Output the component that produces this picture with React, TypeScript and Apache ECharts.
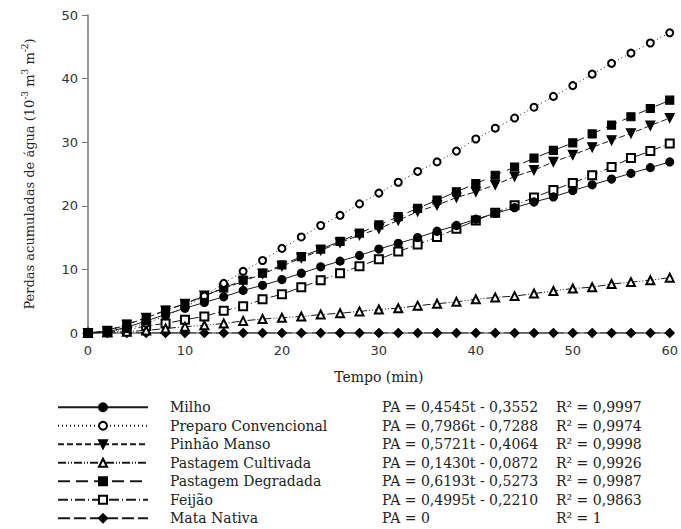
import React, { useEffect, useRef } from "react";
import * as echarts from "echarts";

const tempo = [0, 2, 4, 6, 8, 10, 12, 14, 16, 18, 20, 22, 24, 26, 28, 30, 32, 34, 36, 38, 40, 42, 44, 46, 48, 50, 52, 54, 56, 58, 60];

const milho = [0, 0.2, 0.9, 1.9, 2.9, 3.9, 4.8, 5.7, 6.7, 7.5, 8.4, 9.4, 10.4, 11.3, 12.2, 13.2, 14.1, 15.0, 16.0, 16.9, 17.9, 18.8, 19.7, 20.6, 21.4, 22.4, 23.3, 24.2, 25.1, 26.0, 26.9];
const preparo = [0, 0.2, 0.7, 1.5, 2.7, 4.0, 5.8, 7.8, 9.7, 11.4, 13.3, 15.1, 16.9, 18.5, 20.3, 22.0, 23.7, 25.4, 26.9, 28.6, 30.5, 32.2, 33.8, 35.5, 37.2, 38.9, 40.7, 42.4, 44.0, 45.6, 47.2];
const pinhao = [0, 0.3, 1.3, 2.4, 3.5, 4.6, 5.9, 7.0, 8.1, 9.3, 10.5, 11.8, 13.0, 14.2, 15.4, 16.4, 17.7, 19.1, 20.1, 21.3, 22.2, 23.3, 24.6, 25.6, 26.9, 28.0, 29.2, 30.3, 31.4, 32.6, 33.8];
const cultivada = [0, 0.1, 0.2, 0.4, 0.7, 1.0, 1.2, 1.5, 1.9, 2.2, 2.4, 2.6, 2.9, 3.1, 3.4, 3.7, 3.9, 4.3, 4.6, 4.9, 5.3, 5.6, 5.8, 6.2, 6.6, 7.0, 7.2, 7.7, 8.0, 8.3, 8.7];
const degradada = [0, 0.4, 1.4, 2.4, 3.6, 4.6, 5.8, 7.1, 8.3, 9.4, 10.7, 12.0, 13.2, 14.4, 15.7, 17.0, 18.3, 19.6, 20.9, 22.2, 23.5, 24.8, 26.1, 27.5, 28.7, 29.9, 31.3, 32.7, 34.0, 35.3, 36.6];
const feijao = [0, 0.1, 0.5, 1.1, 1.5, 2.1, 2.6, 3.5, 4.2, 5.3, 6.1, 7.2, 8.3, 9.4, 10.5, 11.6, 12.8, 13.9, 15.1, 16.4, 17.7, 18.9, 20.1, 21.3, 22.5, 23.6, 24.8, 26.1, 27.5, 28.6, 29.8];
const mata = [0, 0, 0, 0, 0, 0, 0, 0, 0, 0, 0, 0, 0, 0, 0, 0, 0, 0, 0, 0, 0, 0, 0, 0, 0, 0, 0, 0, 0, 0, 0];

const seriesNames = ["Milho", "Preparo Convencional", "Pinhão Manso", "Pastagem Cultivada", "Pastagem Degradada", "Feijão", "Mata Nativa"];
const equations = ["PA = 0,4545t - 0,3552", "PA = 0,7986t - 0,7288", "PA = 0,5721t - 0,4064", "PA = 0,1430t - 0,0872", "PA = 0,6193t - 0,5273", "PA = 0,4995t - 0,2210", "PA = 0"];
const r2 = ["R² = 0,9997", "R² = 0,9974", "R² = 0,9998", "R² = 0,9926", "R² = 0,9987", "R² = 0,9863", "R² = 1"];
const seriesValues = [milho, preparo, pinhao, cultivada, degradada, feijao, mata];

const symbols = ["circle", "emptyCircle", "triangle", "emptyTriangle", "rect", "emptyRect", "diamond"];
const symbolSizes = [8, 7, 9, 8, 8, 8, 9];
const rotations = [0, 0, 180, 0, 0, 0, 0];
const dashes: any[] = ["solid", [1, 3], [6, 3], [8, 2, 1, 2, 1, 2], [12, 6], [10, 3, 1, 3], [12, 4]];

const SERIF = "'DejaVu Serif', 'Liberation Serif', serif";
const SANS = "'DejaVu Sans', 'Liberation Sans', sans-serif";

export default function App() {
  const ref = useRef<HTMLDivElement>(null);
  useEffect(() => {
    if (!ref.current) return;
    const chart = echarts.init(ref.current, undefined, { renderer: "svg" });
    const series = seriesNames.map((name, i) => ({
      name,
      type: "line",
      data: tempo.map((t, j) => [t, seriesValues[i][j]]),
      symbol: symbols[i],
      symbolSize: symbolSizes[i],
      symbolRotate: rotations[i],
      showAllSymbol: true,
      lineStyle: { color: "#1a1a1a", width: 1, type: dashes[i] },
      itemStyle: { color: "#000", borderColor: "#000", borderWidth: 1.2 },
      z: 2 + (6 - i),
    }));
    chart.setOption({
      animation: false,
      backgroundColor: "#fff",
      grid: { left: 88, right: 11, top: 15, bottom: 196, containLabel: false },
      xAxis: {
        type: "value",
        min: 0,
        max: 60,
        interval: 10,
        name: "Tempo (min)",
        nameLocation: "middle",
        nameGap: 37,
        nameTextStyle: { fontFamily: SERIF, fontSize: 14, color: "#222" },
        axisLine: { show: true, lineStyle: { color: "#777", width: 1.5 } },
        axisTick: { show: false },
        axisLabel: { fontFamily: SANS, fontSize: 13, color: "#333", margin: 11 },
        splitLine: { show: false },
      },
      yAxis: {
        type: "value",
        min: 0,
        max: 50,
        interval: 10,
        name: "Perdas acumuladas de água (10{sup|-3} m{sup|3} m{sup|-2})",
        nameLocation: "middle",
        nameRotate: 90,
        nameGap: 50,
        nameTextStyle: {
          fontFamily: SERIF,
          fontSize: 13,
          color: "#222",
          lineHeight: 18,
          rich: {
            sup: { fontFamily: SERIF, fontSize: 9, color: "#222", verticalAlign: "top", lineHeight: 10 },
          },
        },
        axisLine: { show: true, lineStyle: { color: "#777", width: 1.5 } },
        axisTick: { show: true, inside: false, length: 6, lineStyle: { color: "#777" } },
        axisLabel: { fontFamily: SANS, fontSize: 13, color: "#333", margin: 10 },
        splitLine: { show: false },
      },
      legend: {
        orient: "vertical",
        left: 57,
        top: 398,
        padding: 0,
        itemWidth: 90,
        itemHeight: 10,
        itemGap: 0,
        data: seriesNames,
        formatter: (name: string) => {
          const i = seriesNames.indexOf(name);
          return "{s| }{a|" + name + "}{b|" + equations[i] + "}{c|" + r2[i] + "}";
        },
        textStyle: {
          fontFamily: SERIF,
          fontSize: 14,
          color: "#222",
          lineHeight: 18.5,
          rich: {
            s: { width: 17, lineHeight: 18.5 },
            a: { width: 212, fontFamily: SERIF, fontSize: 14, color: "#222", lineHeight: 18.5 },
            b: { width: 174, fontFamily: SERIF, fontSize: 14, color: "#222", lineHeight: 18.5 },
            c: { fontFamily: SERIF, fontSize: 14, color: "#222", lineHeight: 18.5 },
          },
        },
      },
      series,
    });
    return () => chart.dispose();
  }, []);
  return <div ref={ref} style={{ width: 681, height: 529, position: "absolute", left: 0, top: 0 }} />;
}
